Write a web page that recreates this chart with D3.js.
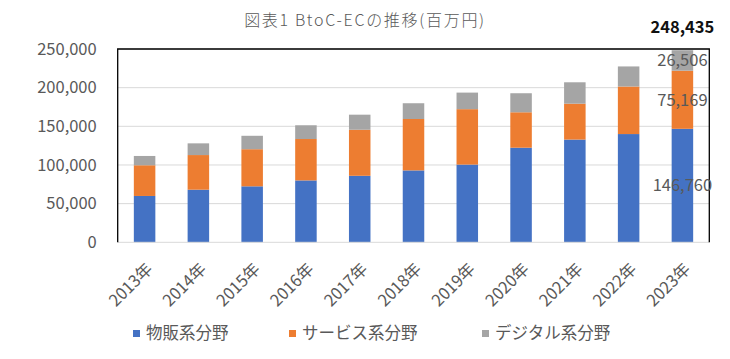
<!DOCTYPE html>
<html><head><meta charset="utf-8">
<script src="https://cdn.jsdelivr.net/npm/d3@7"></script>
<style>body{margin:0;background:#fff}svg{display:block}text{font-family:"Noto Sans CJK JP","Noto Sans",sans-serif}</style>
</head><body><svg id="c" width="730" height="359"></svg>
<script>
const years = ["2013年","2014年","2015年","2016年","2017年","2018年","2019年","2020年","2021年","2022年","2023年"];
const goods = [59931,68043,72398,80043,86008,92992,100515,122333,132865,139997,146760];
const services = [39700,44800,48000,53532,59568,66471,71672,45832,46424,61477,75169];
const digital = [12030,15130,17350,17782,19478,20382,21422,24614,27661,25974,26506];
const seriesNames = ["物販系分野","サービス系分野","デジタル系分野"];
const colors = ["#4472C4","#ED7D31","#A5A5A5"];
const yTicks = [0,50000,100000,150000,200000,250000];
const title = "図表1 BtoC-ECの推移(百万円)";

const svg = d3.select("#c");
const L=117.7, R=709.3, T=49, B=242.3;
const x = d3.scaleBand().domain(years).range([L,R]).paddingInner(0.6).paddingOuter(0.3);
const y = d3.scaleLinear().domain([0,250000]).range([B,T]);
const fmt = d3.format(",");

svg.append("text").attr("x",365).attr("y",26).attr("text-anchor","middle")
  .attr("font-size",16).attr("letter-spacing","1.7px").attr("font-weight",300).attr("fill","#595959").text(title);

// gridlines
svg.append("g").selectAll("line").data(yTicks.filter(d=>d>0)).join("line")
  .attr("x1",L).attr("x2",R).attr("y1",d=>y(d)).attr("y2",d=>y(d))
  .attr("stroke","#d9d9d9").attr("stroke-width",1);

// y axis labels
const ya = svg.append("g").attr("transform",`translate(${L},0)`)
  .call(d3.axisLeft(y).tickValues(yTicks).tickFormat(fmt).tickSize(0).tickPadding(21));
ya.select(".domain").remove();
ya.selectAll("text").attr("font-size",16.5).attr("fill","#595959").attr("font-family","\"Noto Sans CJK JP\"");

// bars
const rows = years.map((yr,i)=>({year:yr, goods:goods[i], services:services[i], digital:digital[i]}));
const stack = d3.stack().keys(["goods","services","digital"])(rows);
svg.append("g").selectAll("g").data(stack).join("g").attr("fill",(d,i)=>colors[i])
  .selectAll("rect").data(d=>d).join("rect")
  .attr("x",d=>x(d.data.year)).attr("width",x.bandwidth())
  .attr("y",d=>y(d[1])).attr("height",d=>y(d[0])-y(d[1]));

// bottom axis line
svg.append("line").attr("x1",L).attr("x2",R).attr("y1",B).attr("y2",B).attr("stroke","#d9d9d9");
// frame
svg.append("path").attr("d",`M${L},${B}V${T}H${R}V${B}`).attr("fill","none").attr("stroke","#000").attr("stroke-width",1.3);

// x labels
svg.append("g").selectAll("text").data(years).join("text")
  .attr("transform",d=>`translate(${x(d)+x.bandwidth()/2+9},${270}) rotate(-45)`)
  .attr("text-anchor","end").attr("font-size",16.5).attr("fill","#595959").text(d=>d);

// data labels for last year
const last = stack.map(s=>s[s.length-1]);
const lx = x(years[years.length-1])+x.bandwidth()/2;
svg.append("g").selectAll("text").data(last).join("text")
  .attr("x",lx).attr("y",d=>y((d[0]+d[1])/2)).attr("dy","0.35em")
  .attr("text-anchor","middle").attr("font-size",16.5).attr("fill","#595959")
  .text(d=>fmt(d[1]-d[0]));
const total = last[2][1];
svg.append("text").attr("x",lx).attr("y",y(total)-17).attr("text-anchor","middle")
  .attr("font-size",16.5).attr("font-weight","bold").attr("fill","#111").text(fmt(total));

// legend
const lg = [{x:133},{x:289},{x:482}];
const leg = svg.append("g").selectAll("g").data(seriesNames).join("g")
  .attr("transform",(d,i)=>`translate(${lg[i].x},330)`);
leg.append("rect").attr("width",7).attr("height",7).attr("fill",(d,i)=>colors[i]);
leg.append("text").attr("x",13).attr("y",9).attr("font-size",16.5).attr("fill","#595959").text(d=>d);
</script></body></html>
